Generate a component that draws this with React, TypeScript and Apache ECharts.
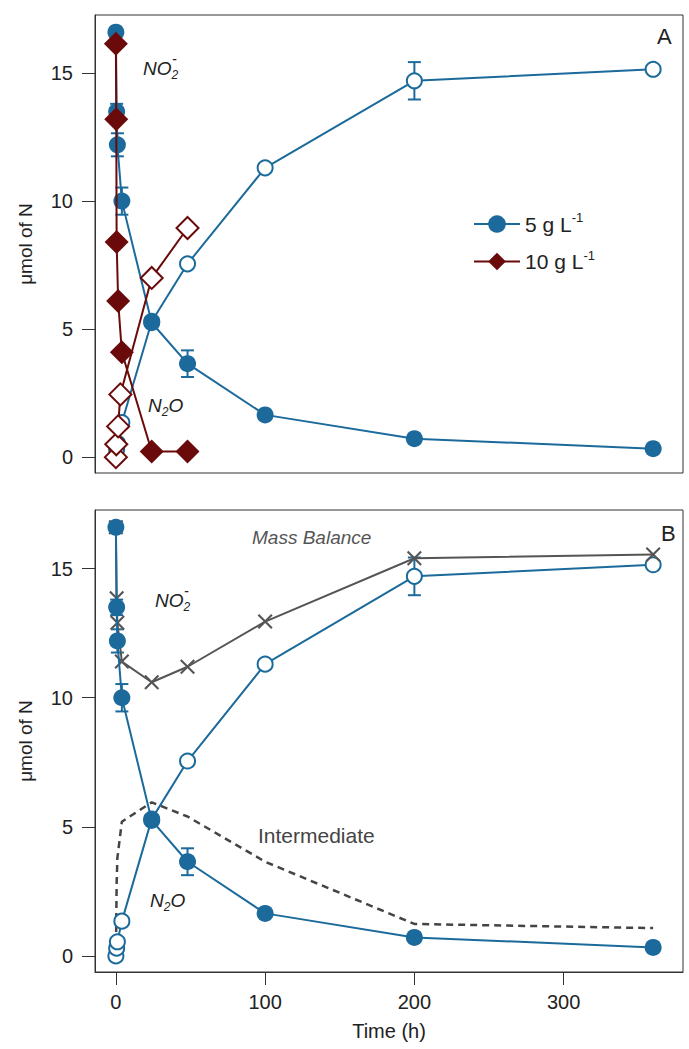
import React, { useEffect, useRef } from 'react';
import * as echarts from 'echarts';

const BLUE = '#1b6a9b';
const RED = '#6b0a0a';
const GRAY = '#555555';
const DASH = '#444444';
const INK = '#222222';
const FONT = '"Liberation Sans", Arial, sans-serif';

// 5 g/L experiment
const time5 = [0, 0.5, 1, 4, 24, 48, 100, 200, 360];
const no2_5 = [16.6, 13.5, 12.2, 10.0, 5.25, 3.65, 1.65, 0.72, 0.33];
const n2o_5 = [0, 0.3, 0.55, 1.35, 5.3, 7.55, 11.3, 14.7, 15.15];
const massBalance = [16.6, 13.85, 12.9, 11.4, 10.6, 11.2, 12.95, 15.4, 15.55];
const intermediate = [0, 2.8, 3.8, 5.2, 5.95, 5.4, 3.65, 1.24, 1.08];

// 10 g/L experiment
const timeRedNO2 = [0, 0.25, 0.5, 1.5, 4, 24, 48];
const no2_10 = [16.15, 13.2, 8.4, 6.1, 4.1, 0.22, 0.22];
const timeRedN2O = [0, 0.25, 1.5, 3, 24, 48];
const n2o_10 = [0, 0.5, 1.2, 2.45, 7.0, 8.95];

// error bars (5 g/L)
const errTime = [0.5, 1, 4, 48, 200];
const errCenter = [13.5, 12.2, 10.0, 3.65, 14.7];
const errHalf = [0.3, 0.45, 0.53, 0.52, 0.73];

const yTicks = [0, 5, 10, 15];
const xTicks = [0, 100, 200, 300];

const zip = (a: number[], b: number[]) => a.map((v, i) => [v, b[i]]);

const errData = errTime.map((t, i) => [t, errCenter[i] - errHalf[i], errCenter[i] + errHalf[i]]);

const errSeries = (idx: number) => ({
  type: 'custom',
  xAxisIndex: idx,
  yAxisIndex: idx,
  data: errData,
  encode: { x: 0, y: [1, 2] },
  z: 1,
  silent: true,
  renderItem: (params: any, api: any) => {
    const x = api.value(0);
    const lo = api.coord([x, api.value(1)]);
    const hi = api.coord([x, api.value(2)]);
    const w = 6.5;
    const st = { stroke: BLUE, lineWidth: 2 };
    return {
      type: 'group',
      children: [
        { type: 'line', shape: { x1: lo[0], y1: lo[1], x2: hi[0], y2: hi[1] }, style: st },
        { type: 'line', shape: { x1: lo[0] - w, y1: lo[1], x2: lo[0] + w, y2: lo[1] }, style: st },
        { type: 'line', shape: { x1: hi[0] - w, y1: hi[1], x2: hi[0] + w, y2: hi[1] }, style: st },
      ],
    };
  },
});

const filledBlue = (idx: number, name?: string) => ({
  type: 'line',
  name,
  xAxisIndex: idx,
  yAxisIndex: idx,
  data: zip(time5, no2_5),
  symbol: 'circle',
  symbolSize: 17,
  itemStyle: { color: BLUE },
  lineStyle: { color: BLUE, width: 2 },
  z: 3,
});

const openBlue = (idx: number) => ({
  type: 'line',
  xAxisIndex: idx,
  yAxisIndex: idx,
  data: zip(time5, n2o_5),
  symbol: 'circle',
  symbolSize: 15,
  itemStyle: { color: '#ffffff', borderColor: BLUE, borderWidth: 2 },
  lineStyle: { color: BLUE, width: 2 },
  z: 2,
});

const XMARK = 'path://M0,1 L1,0 L5,4 L9,0 L10,1 L6,5 L10,9 L9,10 L5,6 L1,10 L0,9 L4,5 Z';

const yAxisCfg = (idx: number) => ({
  type: 'value',
  gridIndex: idx,
  min: -0.62,
  max: 17.27,
  name: 'μmol of N',
  nameLocation: 'middle',
  nameRotate: 90,
  nameGap: 60,
  nameTextStyle: { fontSize: 19, color: INK, fontFamily: FONT },
  axisLine: { show: true, onZero: false, lineStyle: { color: '#333', width: 1 } },
  axisTick: { show: true, inside: false, length: 13, customValues: yTicks, lineStyle: { color: '#333', width: 1 } },
  axisLabel: { show: true, customValues: yTicks, margin: 22, fontSize: 20, color: INK, fontFamily: FONT },
  splitLine: { show: false },
});

const subText = (x: number, y: number, parts: string) => ({
  type: 'text',
  x,
  y,
  style: {
    text: parts,
    fill: INK,
    fontFamily: FONT,
    verticalAlign: 'middle',
    align: 'left',
    rich: {
      a: { fontSize: 19, fontStyle: 'italic', fontFamily: FONT, fill: INK, lineHeight: 26 },
      b: { fontSize: 12, fontStyle: 'italic', fontFamily: FONT, fill: INK, verticalAlign: 'bottom' },
    },
  },
});

const plainText = (x: number, y: number, text: string, size: number, color: string, italic = false) => ({
  type: 'text',
  x,
  y,
  style: {
    text,
    fill: color,
    fontSize: size,
    fontFamily: FONT,
    fontStyle: italic ? 'italic' : 'normal',
    verticalAlign: 'middle',
    align: 'left',
  },
});

export default function App() {
  const ref = useRef<HTMLDivElement>(null);
  useEffect(() => {
    if (!ref.current) return;
    const chart = echarts.init(ref.current, undefined, { renderer: 'svg' });
    const option: any = {
      animation: false,
      backgroundColor: '#ffffff',
      grid: [
        { left: 95, top: 15, width: 588, height: 458, show: true, borderColor: '#333', borderWidth: 1, backgroundColor: 'transparent' },
        { left: 95, top: 510, width: 588, height: 462, show: true, borderColor: '#333', borderWidth: 1, backgroundColor: 'transparent' },
      ],
      xAxis: [
        {
          type: 'value',
          gridIndex: 0,
          min: -14,
          max: 380,
          axisLine: { show: false, onZero: false },
          axisTick: { show: false },
          axisLabel: { show: false },
          splitLine: { show: false },
        },
        {
          type: 'value',
          gridIndex: 1,
          min: -14,
          max: 380,
          name: 'Time (h)',
          nameLocation: 'middle',
          nameGap: 49,
          nameTextStyle: { fontSize: 20, color: INK, fontFamily: FONT },
          axisLine: { show: true, onZero: false, lineStyle: { color: '#333', width: 1 } },
          axisTick: { show: true, inside: false, length: 13, customValues: xTicks, lineStyle: { color: '#333', width: 1 } },
          axisLabel: { show: true, customValues: xTicks, margin: 20, fontSize: 20, color: INK, fontFamily: FONT },
          splitLine: { show: false },
        },
      ],
      yAxis: [yAxisCfg(0), yAxisCfg(1)],
      legend: {
        data: ['5 g L-1', '10 g L-1'],
        orient: 'vertical',
        left: 468,
        top: 206,
        itemWidth: 46,
        itemHeight: 22,
        itemGap: 14,
        selectedMode: false,
        formatter: (name: string) => (name === '5 g L-1' ? '{a|5 g L}{s|-1}' : '{a|10 g L}{s|-1}'),
        textStyle: {
          color: INK,
          fontFamily: FONT,
          rich: {
            a: { fontSize: 21, color: INK, fontFamily: FONT, lineHeight: 26 },
            s: { fontSize: 13, color: INK, fontFamily: FONT, verticalAlign: 'top' },
          },
        },
      },
      series: [
        // top panel
        errSeries(0),
        openBlue(0),
        filledBlue(0, '5 g L-1'),
        {
          type: 'line',
          name: '10 g L-1',
          xAxisIndex: 0,
          yAxisIndex: 0,
          data: zip(timeRedNO2, no2_10),
          symbol: 'diamond',
          symbolSize: 24,
          itemStyle: { color: RED },
          lineStyle: { color: RED, width: 2 },
          z: 4,
        },
        {
          type: 'line',
          xAxisIndex: 0,
          yAxisIndex: 0,
          data: zip(timeRedN2O, n2o_10),
          symbol: 'diamond',
          symbolSize: 22,
          itemStyle: { color: '#ffffff', borderColor: RED, borderWidth: 2 },
          lineStyle: { color: RED, width: 2 },
          z: 5,
        },
        // bottom panel
        errSeries(1),
        {
          type: 'line',
          xAxisIndex: 1,
          yAxisIndex: 1,
          data: zip(time5, intermediate),
          symbol: 'none',
          lineStyle: { color: DASH, width: 2.5, type: [7, 5] },
          z: 1,
        },
        openBlue(1),
        {
          type: 'line',
          xAxisIndex: 1,
          yAxisIndex: 1,
          data: zip(time5, massBalance),
          symbol: XMARK,
          symbolSize: 15,
          itemStyle: { color: GRAY },
          lineStyle: { color: GRAY, width: 2 },
          z: 2.5,
        },
        filledBlue(1),
      ],
      graphic: [
        subText(143, 68, '{a|NO}{b|2}'),
        plainText(172, 59, '-', 14, INK, true),
        subText(148, 405, '{a|N}{b|2}{a|O}'),
        plainText(657, 36, 'A', 22, INK),
        plainText(252, 537, 'Mass Balance', 19, GRAY, true),
        subText(155, 600, '{a|NO}{b|2}'),
        plainText(184, 591, '-', 14, INK, true),
        plainText(258, 835, 'Intermediate', 21, DASH),
        subText(150, 900, '{a|N}{b|2}{a|O}'),
        plainText(661, 533, 'B', 22, INK),
      ],
    };
    chart.setOption(option);
    return () => chart.dispose();
  }, []);
  return <div ref={ref} style={{ position: 'absolute', left: 0, top: 0, width: 689, height: 1049 }} />;
}
